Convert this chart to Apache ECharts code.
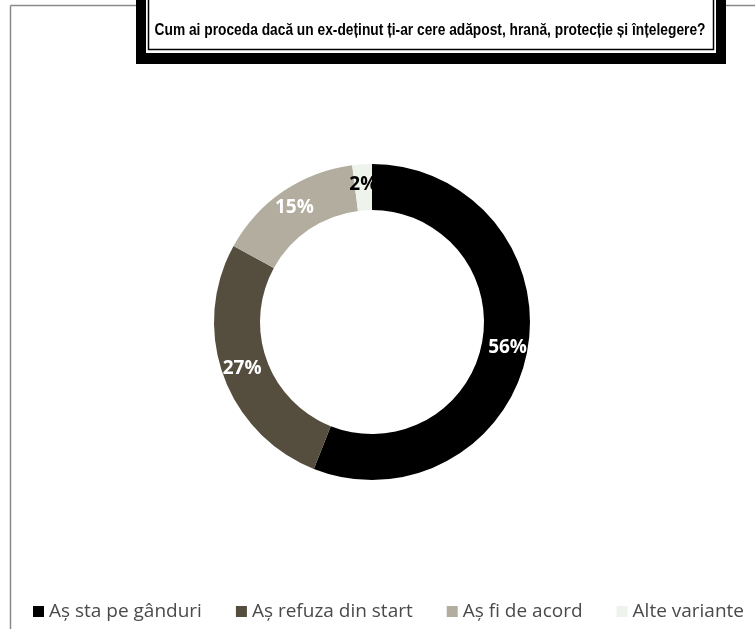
<!DOCTYPE html>
<html><head><meta charset="utf-8">
<script src="https://cdn.jsdelivr.net/npm/echarts@6/dist/echarts.min.js"></script>
<style>html,body{margin:0;padding:0;background:#fff}#c{width:755px;height:629px}</style>
</head><body><div id="c"></div>
<script>
var titleText = 'Cum ai proceda dacă un ex-deținut ți-ar cere adăpost, hrană, protecție și înțelegere?';
var categories = ['Aș sta pe gânduri', 'Aș refuza din start', 'Aș fi de acord', 'Alte variante'];
var values = [56, 27, 15, 2];
var colors = ['#000000', '#554d3d', '#b2ad9e', '#eef4ec'];
var labelColors = ['#ffffff', '#ffffff', '#ffffff', '#000000'];

var chart = echarts.init(document.getElementById('c'));
chart.setOption({
  animation: false,
  color: colors,
  graphic: [
    {type:'line', shape:{x1:10.5,y1:5.5,x2:755,y2:5.5}, style:{stroke:'#8a8a8a',lineWidth:1.5}},
    {type:'line', shape:{x1:10.5,y1:5.5,x2:10.5,y2:629}, style:{stroke:'#8a8a8a',lineWidth:1.5}},
    {type:'rect', shape:{x:136,y:-5,width:590,height:69}, style:{fill:'#000'}},
    {type:'rect', shape:{x:146,y:-5,width:570,height:58}, style:{fill:'#fff'}},
    {type:'rect', shape:{x:148.5,y:-5,width:565,height:54.5}, style:{fill:'#fff',stroke:'#000',lineWidth:1.5}},
    {type:'text', x:430, y:30, scaleX:0.81, style:{text:titleText, fill:'#000', font:'bold 17px "Liberation Sans", Arial, sans-serif', align:'center', verticalAlign:'middle'}}
  ],
  legend: {
    bottom: 3, left: 28,
    itemWidth: 11, itemHeight: 11, itemGap: 34,
    icon: 'rect',
    textStyle: {fontFamily: '"Open Sans", sans-serif', fontSize: 19, color: '#4a4a4a'},
    data: categories
  },
  series: [{
    type: 'pie',
    center: [372, 322],
    radius: [112, 158],
    startAngle: 90,
    clockwise: true,
    avoidLabelOverlap: false,
    label: {
      show: true, position: 'inside',
      formatter: function(p){ return p.value + '%'; },
      fontFamily: '"Open Sans", sans-serif', fontWeight: 'bold', fontSize: 19
    },
    labelLine: {show:false},
    emphasis: {disabled:true},
    itemStyle: {borderColor:'#fff', borderWidth:0},
    data: categories.map(function(c,i){
      return {name:c, value:values[i], label:{color:labelColors[i]}};
    })
  }]
});
</script></body></html>
